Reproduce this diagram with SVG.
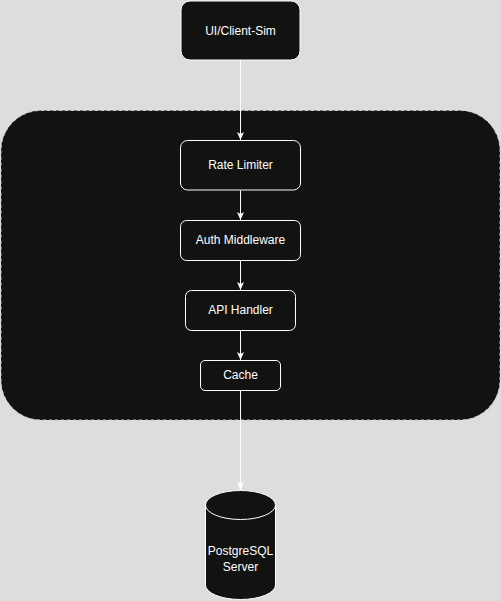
<svg xmlns="http://www.w3.org/2000/svg" width="501" height="601" viewBox="0 0 501 601">
<defs>
<style>
.box{fill:#121212;stroke:#ffffff;stroke-width:1}
.lbl{fill:#ffffff;font-family:"Liberation Sans",Arial,sans-serif;font-size:12px;text-anchor:middle}
.edge{stroke:#ffffff;stroke-width:1;fill:none}
</style>
<marker id="arr" viewBox="0 0 8 8" refX="8" refY="4" markerWidth="8" markerHeight="8" markerUnits="userSpaceOnUse" orient="auto">
<path d="M0,0.5 L8,4 L0,7.5 L2,4 Z" fill="#ffffff"/>
</marker>
</defs>
<rect width="501" height="601" fill="#dddddd"/>
<g id="container">
<rect x="1" y="110.5" width="499" height="309.5" rx="40" ry="40" fill="#121212" stroke="#c8c8c8" stroke-dasharray="3 3"/>
</g>
<g id="connectors">
<line class="edge" x1="240.5" y1="60.5" x2="240.5" y2="140" marker-end="url(#arr)"/>
<line class="edge" x1="240.5" y1="190.5" x2="240.5" y2="220" marker-end="url(#arr)"/>
<line class="edge" x1="240.5" y1="260.5" x2="240.5" y2="290" marker-end="url(#arr)"/>
<line class="edge" x1="240.5" y1="330.5" x2="240.5" y2="360" marker-end="url(#arr)"/>
<line class="edge" x1="240.5" y1="390.5" x2="240.5" y2="490" marker-end="url(#arr)"/>
</g>
<g id="ui-client-sim">
<rect class="box" x="181" y="1" width="119" height="59" rx="9" ry="9"/>
<text class="lbl" x="240.5" y="34.5">UI/Client-Sim</text>
</g>
<g id="rate-limiter">
<rect class="box" x="180.5" y="140.5" width="120" height="49.5" rx="7" ry="7"/>
<text class="lbl" x="240.5" y="169.3">Rate Limiter</text>
</g>
<g id="auth-middleware">
<rect class="box" x="180.5" y="220.5" width="120" height="40" rx="6" ry="6"/>
<text class="lbl" x="240.5" y="244.3">Auth Middleware</text>
</g>
<g id="api-handler">
<rect class="box" x="185.5" y="290.5" width="110" height="40" rx="6" ry="6"/>
<text class="lbl" x="240.5" y="314.3">API Handler</text>
</g>
<g id="cache">
<rect class="box" x="200.5" y="360.5" width="80" height="30" rx="4.5" ry="4.5"/>
<text class="lbl" x="240.5" y="379.3">Cache</text>
</g>
<g id="postgresql-server">
<path class="box" d="M205.5,505 A35,14.5 0 0 1 275.5,505 L275.5,585 A35,14.5 0 0 1 205.5,585 Z"/>
<path class="edge" d="M205.5,505 A35,14.5 0 0 0 275.5,505"/>
<text class="lbl" x="240.5" y="555.3">PostgreSQL</text>
<text class="lbl" x="240.5" y="570.6">Server</text>
</g>
</svg>
